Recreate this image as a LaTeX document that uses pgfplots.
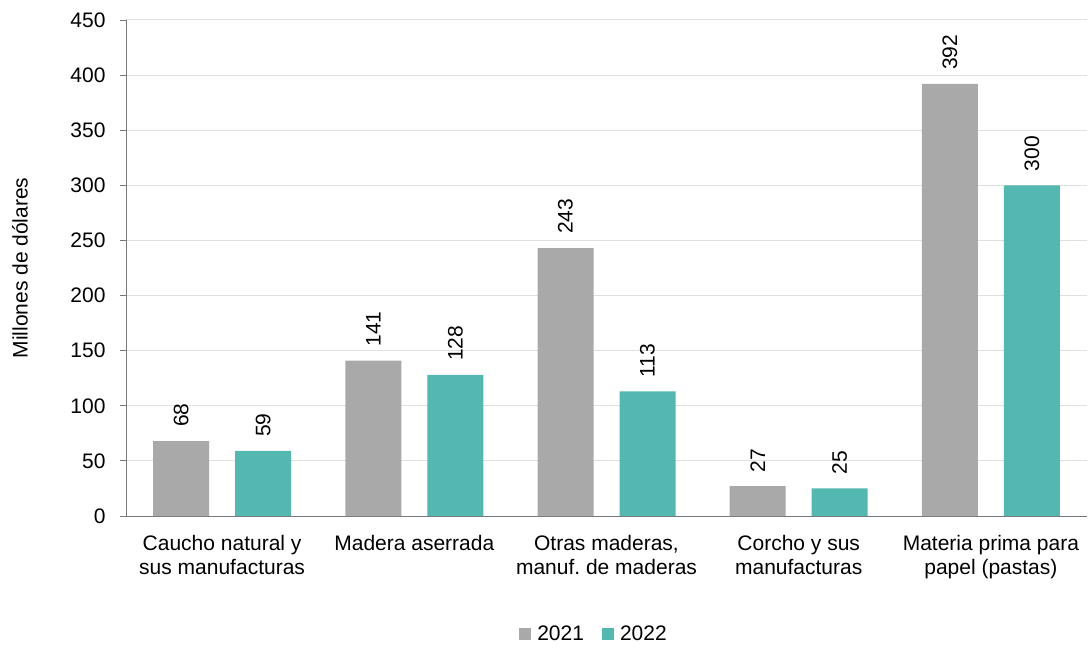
\documentclass[border=0pt]{standalone}
\usepackage{pgfplots}
\pgfplotsset{compat=1.18}
\usepackage{fontspec}
\setmainfont{Liberation Sans}
\frenchspacing
\definecolor{cgray}{RGB}{169,169,169}
\definecolor{cteal}{RGB}{82,184,176}
\definecolor{axgray}{RGB}{120,120,120}
\definecolor{gridc}{RGB}{224,224,224}
\begin{document}
\begin{tikzpicture}
\path[use as bounding box] (-126pt,-132pt) rectangle (963pt,516pt);
\begin{axis}[
  at={(0pt,0pt)}, anchor=south west,
  scale only axis, width=961pt, height=496pt,
  ymin=0, ymax=450, ytick={0,50,...,450},
  xmin=-0.5, xmax=4.5,
  xtick={0,1,2,3,4},
  xticklabels={{Caucho natural y\\sus manufacturas},{Madera aserrada},{Otras maderas,\\manuf.\ de maderas},{Corcho y sus\\manufacturas},{Materia prima para\\papel (pastas)}},
  xticklabel style={align=center, font=\fontsize{21}{24}\selectfont, yshift=-10pt},
  yticklabel style={font=\fontsize{21}{24}\selectfont, xshift=-11pt},
  /pgf/number format/assume math mode=true,
  major x tick style={draw=none},
  extra x ticks={-0.5,0.5,1.5,2.5,3.5,4.5},
  extra x tick labels={},
  extra x tick style={major tick length=8pt, tick style={draw=axgray, line width=0.8pt}},
  tick align=outside,
  ytick style={draw=axgray, line width=0.8pt},
  major tick length=6pt,
  axis x line*=bottom, axis y line*=left,
  axis line style={draw=axgray, line width=0.8pt, -},
  ymajorgrids, grid style={draw=gridc, line width=1pt},
  ybar=26pt, bar width=56pt,
  ylabel={Millones de dólares},
  every axis y label/.style={at={(axis description cs:-0.1103,0.5)}, rotate=90, anchor=center, font=\fontsize{21}{24}\selectfont},
  nodes near coords,
  every node near coord/.append style={font=\fontsize{21}{24}\selectfont, rotate=90, anchor=west, inner xsep=14pt, text=black},
  legend style={at={(axis description cs:0.487,-0.238)}, anchor=center, draw=none, legend columns=2, font=\fontsize{21}{24}\selectfont, /tikz/every even column/.append style={column sep=16pt}, /tikz/every odd column/.append style={column sep=4pt}},
  legend image code/.code={\fill[#1,draw=none] (0pt,-6pt) rectangle (12pt,6pt);},
]
\addplot[fill=cgray, draw=none] coordinates {(0,68) (1,141) (2,243) (3,27) (4,392)};
\addplot[fill=cteal, draw=none] coordinates {(0,59) (1,128) (2,113) (3,25) (4,300)};
\legend{2021,2022}
\end{axis}
\end{tikzpicture}
\end{document}
